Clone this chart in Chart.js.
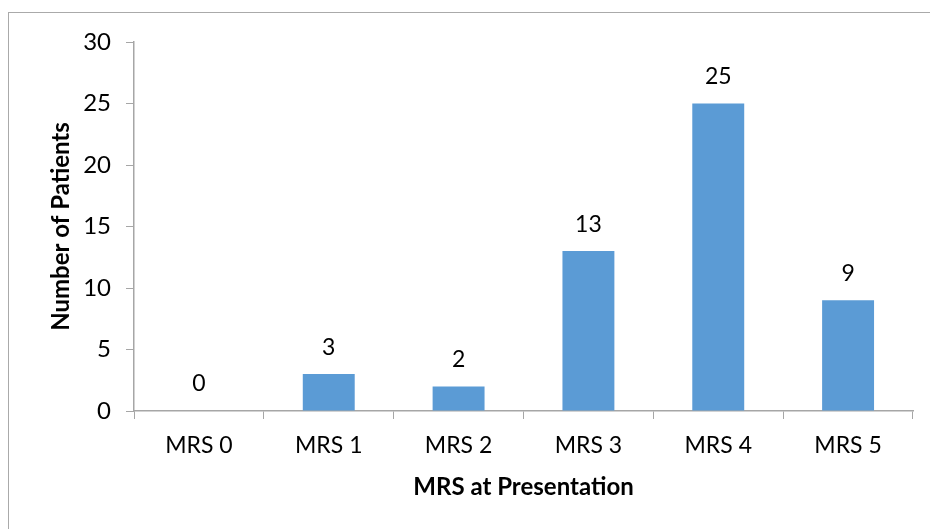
<!DOCTYPE html>
<html>
<head>
<meta charset="utf-8">
<script src="https://cdn.jsdelivr.net/npm/chart.js@4"></script>
<style>
    html, body { margin: 0; padding: 0; background: #fff; overflow: hidden; }
    #frame { position: absolute; left: 8px; top: 12px; width: 1000px; height: 1000px; border: 1.5px solid #aaaaaa; }
    #wrap { position: absolute; left: 0; top: 0; width: 930px; height: 529px; }
</style>
</head>
<body>
<div id="frame"></div>
<div id="wrap"><canvas id="chart" width="930" height="529"></canvas></div>
<script>
const categories = ['MRS 0', 'MRS 1', 'MRS 2', 'MRS 3', 'MRS 4', 'MRS 5'];
const patients = [0, 3, 2, 13, 25, 9];
const yTicks = [0, 5, 10, 15, 20, 25, 30];

const FONT = 'Lato, "Open Sans", sans-serif';
const axisColor = '#a6a6a6';

// 막대 위에 값 표시
const valueLabels = {
    id: 'valueLabels',
    afterDatasetsDraw(chart) {
        const ctx = chart.ctx;
        const meta = chart.getDatasetMeta(0);
        ctx.save();
        ctx.font = '23px ' + FONT;
        ctx.fillStyle = '#000';
        ctx.textAlign = 'center';
        ctx.textBaseline = 'middle';
        meta.data.forEach((bar, i) => {
            ctx.fillText(String(patients[i]), bar.x, bar.y - 27);
        });
        ctx.restore();
    }
};

new Chart(document.getElementById('chart'), {
    type: 'bar',
    data: {
        labels: categories,
        datasets: [{
            data: patients,
            backgroundColor: '#5b9bd5',
            borderWidth: 0,
            barPercentage: 0.4,
            categoryPercentage: 1.0
        }]
    },
    options: {
        responsive: false,
        animation: false,
        layout: { padding: { top: 42, right: 17, left: 0, bottom: 0 } },
        plugins: {
            legend: { display: false },
            tooltip: { enabled: false }
        },
        scales: {
            x: {
                afterFit: (s) => { s.height = 118; },
                grid: { drawOnChartArea: false, color: axisColor, tickLength: 8, offset: true },
                border: { display: true, color: axisColor, width: 1.5 },
                ticks: { color: '#000', padding: 13, font: { family: FONT, size: 23 } },
                title: {
                    display: true,
                    text: 'MRS at Presentation',
                    color: '#000',
                    font: { family: FONT, size: 24, weight: 'bold' },
                    padding: { top: 0, bottom: 27 }
                }
            },
            y: {
                min: 0,
                max: 30,
                afterFit: (s) => { s.width = 134; },
                afterBuildTicks: (s) => { s.ticks = yTicks.map(v => ({ value: v })); },
                grid: { drawOnChartArea: false, color: axisColor, tickLength: 8 },
                border: { display: true, color: axisColor, width: 1.5 },
                ticks: { color: '#000', padding: 15, font: { family: FONT, size: 24 } },
                title: {
                    display: true,
                    text: 'Number of Patients',
                    color: '#000',
                    font: { family: FONT, size: 24, weight: 'bold' },
                    padding: { top: 47, bottom: 0 }
                }
            }
        }
    },
    plugins: [valueLabels]
});
</script>
</body>
</html>
